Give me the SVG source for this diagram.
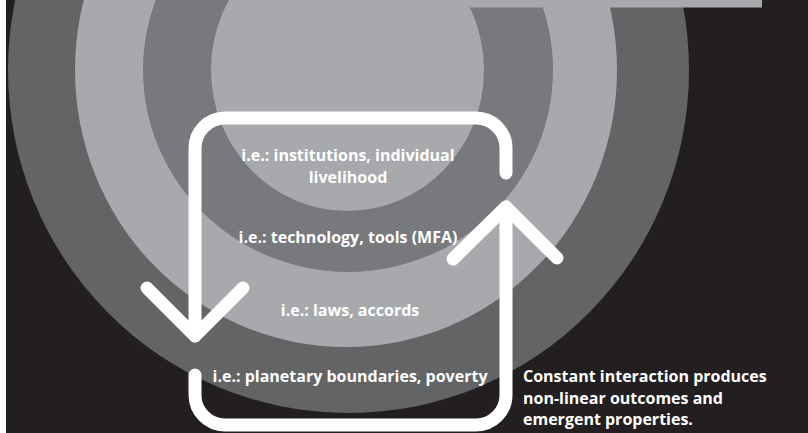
<svg xmlns="http://www.w3.org/2000/svg" width="808" height="433" viewBox="0 0 808 433">
  <style>
    .lbl { font-family: "Open Sans", "Liberation Sans", sans-serif; font-weight: 700; font-size: 16px; fill: #ffffff; }
    .mid { text-anchor: middle; }
    .loop { fill: none; stroke: #ffffff; stroke-width: 13; stroke-linecap: round; stroke-linejoin: round; }
  </style>
  <rect x="0" y="0" width="808" height="433" fill="#231f20"/>
  <rect x="0" y="0" width="6" height="433" fill="#ffffff"/>
  <g id="rings">
    <ellipse id="ring-outer" cx="348.5" cy="70" rx="340.5" ry="343" fill="#636466"/>
    <ellipse id="ring-2" cx="346" cy="70" rx="271" ry="277" fill="#a7a9ac"/>
    <ellipse id="ring-3" cx="348" cy="70" rx="205" ry="202" fill="#77797c"/>
    <ellipse id="ring-center" cx="347.5" cy="70" rx="136.5" ry="141" fill="#a7a9ac"/>
    <rect id="top-bar" x="440" y="0" width="322" height="7.5" fill="#a7a9ac"/>
  </g>
  <g id="connectors">
    <path class="loop" d="M506,173 V148 A30,30 0 0 0 476,118 H225 A30,30 0 0 0 195,148 V336"/>
    <path class="loop" d="M147,288 L195,336 L243,288"/>
    <path class="loop" d="M195,375 V395 A30,30 0 0 0 225,425 H476 A30,30 0 0 0 506,395 V207"/>
    <path class="loop" d="M453,259 L506,207 L557,258"/>
  </g>
  <g id="node-center">
    <text class="lbl mid" x="348" y="161">i.e.: institutions, individual</text>
    <text class="lbl mid" x="348" y="183">livelihood</text>
  </g>
  <g id="node-ring3">
    <text class="lbl mid" x="348" y="243">i.e.: technology, tools (MFA)</text>
  </g>
  <g id="node-ring2">
    <text class="lbl mid" x="350" y="316">i.e.: laws, accords</text>
  </g>
  <g id="node-outer">
    <text class="lbl mid" x="350" y="382">i.e.: planetary boundaries, poverty</text>
  </g>
  <g id="note">
    <text class="lbl" x="523" y="382">Constant interaction produces</text>
    <text class="lbl" x="523" y="403.5">non-linear outcomes and</text>
    <text class="lbl" x="523" y="425">emergent properties.</text>
  </g>
</svg>
